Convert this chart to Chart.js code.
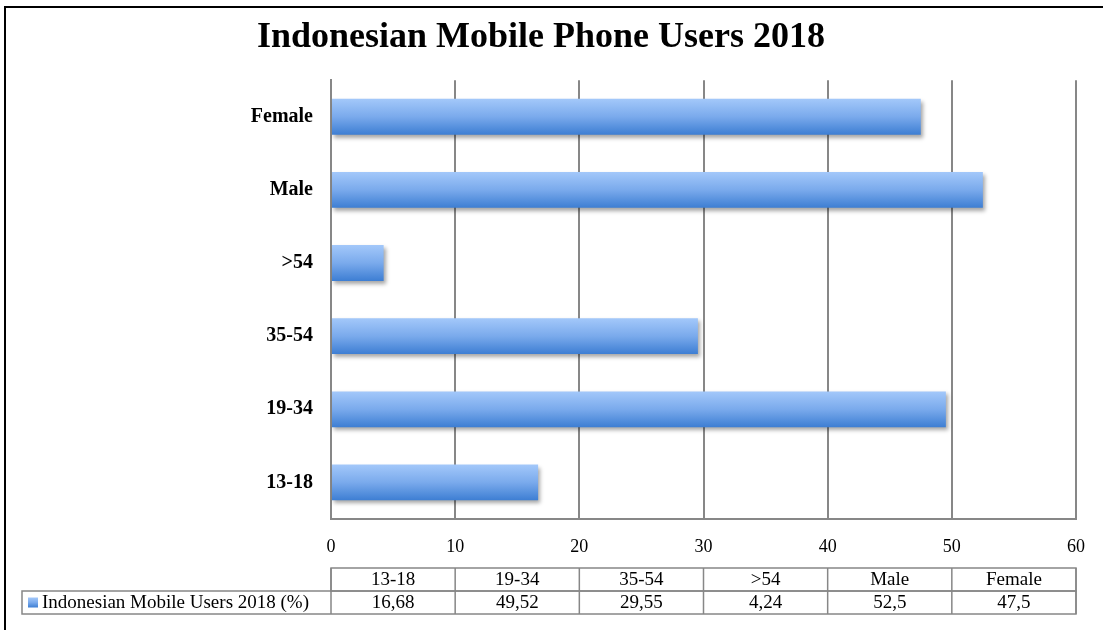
<!DOCTYPE html>
<html>
<head>
<meta charset="utf-8">
<script src="https://cdn.jsdelivr.net/npm/chart.js@4"></script>
<style>
  body { margin: 0; background: #fff; }
  #wrap { width: 1103px; height: 630px; position: relative; }
</style>
</head>
<body>
<div id="wrap"><canvas id="users-chart"></canvas></div>
<script>
const categories = ['13-18', '19-34', '35-54', '>54', 'Male', 'Female'];
const users = [16.68, 49.52, 29.55, 4.24, 52.5, 47.5];
const xTicks = [0, 10, 20, 30, 40, 50, 60];
const seriesName = 'Indonesian Mobile Users 2018 (%)';

const serif = "'Liberation Serif', 'Times New Roman', serif";
const gridGray = '#878787';
const barPct = 0.98;
const catPct = 0.5;

function barGradient(ctx, top, bottom) {
  const g = ctx.createLinearGradient(0, top, 0, bottom);
  g.addColorStop(0, '#a3c8fa');
  g.addColorStop(0.5, '#7aaaec');
  g.addColorStop(1, '#3d7ed3');
  return g;
}

// vertical gradient per bar, worked out from the category scale
function barFill(c) {
  const chart = c.chart;
  const y = chart.scales.y;
  if (!y || c.dataIndex === undefined) return '#7aaaec';
  const mid = y.getPixelForValue(c.dataIndex);
  const half = (y.height / categories.length) * barPct * catPct / 2;
  if (!Number.isFinite(mid) || !Number.isFinite(half) || half <= 0) return '#7aaaec';
  return barGradient(chart.ctx, mid - half, mid + half);
}

// soft shadow under the bars
const barShadow = {
  id: 'barShadow',
  beforeDatasetsDraw(chart) {
    const ctx = chart.ctx;
    ctx.save();
    ctx.shadowColor = 'rgba(0,0,0,0.35)';
    ctx.shadowOffsetX = 2;
    ctx.shadowOffsetY = 3;
    ctx.shadowBlur = 4;
  },
  afterDatasetsDraw(chart) {
    chart.ctx.restore();
  }
};

// frame lines and the data table under the axis
const dataTable = {
  id: 'dataTable',
  afterDraw(chart) {
    const ctx = chart.ctx;
    const area = chart.chartArea;
    const xs = chart.scales.x;

    ctx.save();
    ctx.strokeStyle = '#000';
    ctx.lineWidth = 2;
    ctx.beginPath();
    ctx.moveTo(5, chart.height);
    ctx.lineTo(5, 7);
    ctx.lineTo(chart.width, 7);
    ctx.stroke();

    const top = xs.bottom + 9;
    const rowH = 23;
    const colW = (area.right - area.left) / categories.length;
    const legendLeft = 22;

    ctx.strokeStyle = gridGray;
    ctx.lineWidth = 1.5;
    ctx.strokeRect(area.left, top, area.right - area.left, rowH);
    ctx.strokeRect(legendLeft, top + rowH, area.right - legendLeft, rowH);
    ctx.beginPath();
    for (let i = 0; i <= categories.length; i++) {
      const x = area.left + i * colW;
      ctx.moveTo(x, top);
      ctx.lineTo(x, top + rowH * 2);
    }
    ctx.stroke();

    ctx.fillStyle = '#000';
    ctx.font = '19px ' + serif;
    ctx.textAlign = 'center';
    ctx.textBaseline = 'middle';
    categories.forEach((c, i) => {
      const cx = area.left + (i + 0.5) * colW;
      ctx.fillText(c, cx, top + rowH / 2 + 1);
      ctx.fillText(String(users[i]).replace('.', ','), cx, top + rowH * 1.5 + 1);
    });

    const ky = top + rowH * 1.5;
    ctx.fillStyle = barGradient(ctx, ky - 5, ky + 5);
    ctx.fillRect(28, ky - 5, 10, 10);
    ctx.fillStyle = '#000';
    ctx.textAlign = 'left';
    ctx.fillText(seriesName, 42, ky + 1);
    ctx.restore();
  }
};

new Chart(document.getElementById('users-chart'), {
  type: 'bar',
  data: {
    labels: categories,
    datasets: [{
      label: seriesName,
      data: users,
      backgroundColor: barFill,
      borderWidth: 0,
      barPercentage: barPct,
      categoryPercentage: catPct
    }]
  },
  options: {
    indexAxis: 'y',
    responsive: true,
    maintainAspectRatio: false,
    animation: false,
    layout: { padding: { left: 6, right: 27, top: 6, bottom: 71 } },
    plugins: {
      legend: { display: false },
      tooltip: { enabled: false },
      title: {
        display: true,
        text: 'Indonesian Mobile Phone Users 2018',
        color: '#000',
        font: { family: serif, size: 36, weight: 'bold', lineHeight: 1.2 },
        padding: { top: 10, bottom: 21 }
      }
    },
    scales: {
      x: {
        min: 0,
        max: 60,
        afterBuildTicks(scale) {
          scale.ticks = xTicks.map(v => ({ value: v }));
        },
        afterFit(scale) { scale.height = 40; },
        grid: { color: gridGray, lineWidth: 2, drawTicks: false },
        border: { display: true, color: gridGray, width: 2 },
        ticks: { color: '#000', padding: 17, font: { family: serif, size: 18 } }
      },
      y: {
        reverse: true,
        afterFit(scale) { scale.width = 325; },
        grid: { display: false, drawTicks: false },
        border: { display: true, color: gridGray, width: 2 },
        ticks: { color: '#000', padding: 18, font: { family: serif, size: 20, weight: 'bold' } }
      }
    }
  },
  plugins: [barShadow, dataTable]
});
</script>
</body>
</html>
